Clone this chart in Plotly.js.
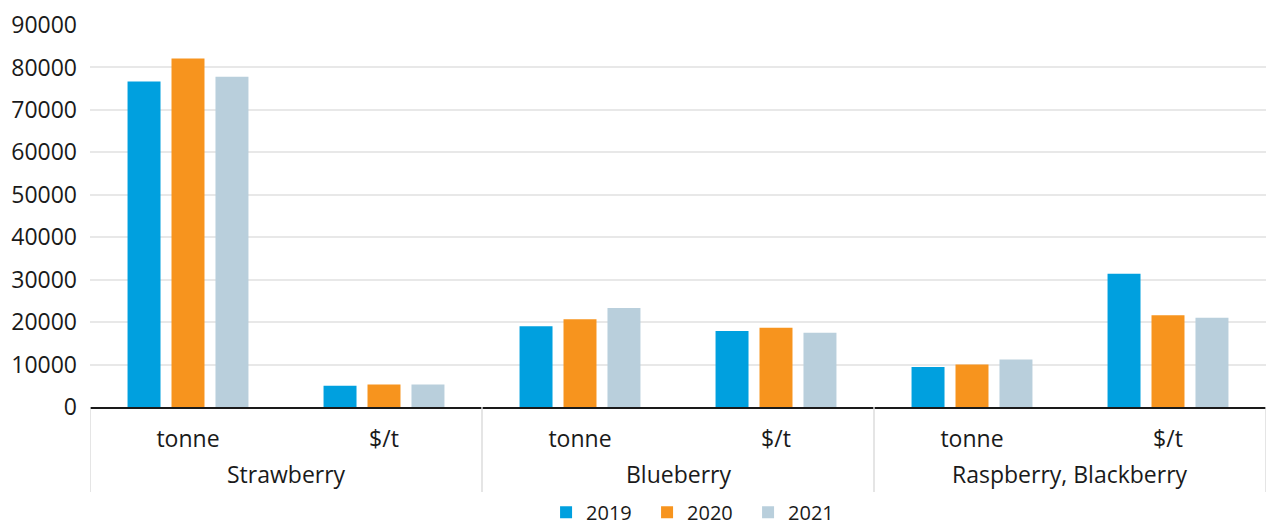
<!DOCTYPE html>
<html>
<head>
<meta charset="utf-8">
<script src="https://cdn.plot.ly/plotly-3.0.1.min.js"></script>
<style>html,body{margin:0;padding:0;background:#fff;}#chart{width:1266px;height:526px;}</style>
</head>
<body>
<div id="chart"></div>
<script>
const fruits = ["Strawberry", "Strawberry", "Blueberry", "Blueberry", "Raspberry, Blackberry", "Raspberry, Blackberry"];
const units = ["tonne", "$/t", "tonne", "$/t", "tonne", "$/t"];
const years = ["2019", "2020", "2021"];
const v2019 = [76700, 5000, 19000, 17900, 9400, 31400];
const v2020 = [82100, 5300, 20700, 18700, 10000, 21600];
const v2021 = [77800, 5300, 23300, 17500, 11200, 21000];
const colors = ["#00A0DF", "#F7941E", "#B9CFDC"];

const idx = units.map((_, i) => i);
const series = [v2019, v2020, v2021];
const traces = series.map((vals, i) => ({
  type: "bar",
  name: years[i],
  x: idx,
  y: vals,
  marker: {color: colors[i], line: {width: 0}}
}));

// group names and boundaries derived from the fruits array
const groups = [];
fruits.forEach((f, i) => {
  const g = groups[groups.length - 1];
  if (g && g.name === f) g.end = i; else groups.push({name: f, start: i, end: i});
});
const annotations = groups.map(g => ({
  text: g.name, xref: "x", yref: "paper",
  x: (g.start + g.end) / 2, y: -0.175, yanchor: "middle", xanchor: "center",
  showarrow: false, font: {size: 23, color: "#1a1a1a"}
}));
const shapes = groups.map(g => g.start - 0.5).concat([fruits.length - 0.5]).map(b => ({
  type: "line", xref: "x", yref: "paper", x0: b, x1: b, y0: 0, y1: -0.2225,
  line: {color: "#dcdcdc", width: 1.5}
}));

const layout = {
  width: 1266, height: 526,
  margin: {l: 90, r: 0, t: 25, b: 119},
  paper_bgcolor: "#fff", plot_bgcolor: "#fff",
  font: {family: "Open Sans, sans-serif", color: "#1a1a1a", size: 23},
  barmode: "group",
  bargap: 0.327,
  bargroupgap: 0.25,
  showlegend: true,
  legend: {
    orientation: "h", x: 0.551, xanchor: "center", xref: "container",
    y: 0.026, yanchor: "middle", yref: "container",
    font: {size: 20}, itemwidth: 30, tracegroupgap: 0,
    entrywidth: 56, entrywidthmode: "pixels"
  },
  annotations: annotations,
  shapes: shapes,
  xaxis: {
    range: [-0.5, units.length - 0.5],
    tickvals: idx, ticktext: units,
    showline: true, linecolor: "#1a1a1a", linewidth: 2,
    showgrid: false, zeroline: false,
    ticks: "",
    ticklabelstandoff: 10,
    tickfont: {size: 23}
  },
  yaxis: {
    range: [0, 90000],
    dtick: 10000,
    tickformat: "d",
    showgrid: true, gridcolor: "#e8e8e8", gridwidth: 2,
    zeroline: false, showline: false,
    ticks: "", ticklabelstandoff: 12,
    tickfont: {size: 23}
  }
};

Plotly.newPlot("chart", traces, layout, {displayModeBar: false, staticPlot: true});
</script>
</body>
</html>
